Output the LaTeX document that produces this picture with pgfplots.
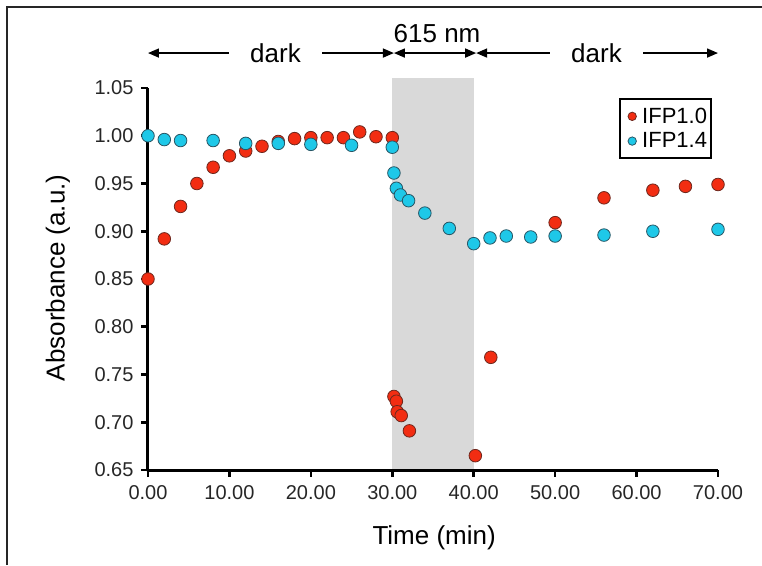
\documentclass[border=0pt]{standalone}
\usepackage{pgfplots}
\pgfplotsset{compat=1.18}
\usepackage{fontspec}
\setmainfont{Liberation Sans}
\usetikzlibrary{arrows.meta}
\definecolor{redfill}{RGB}{242,45,18}
\definecolor{rededge}{RGB}{110,40,30}
\definecolor{bluefill}{RGB}{30,200,232}
\definecolor{blueedge}{RGB}{40,85,100}
\definecolor{boxgray}{RGB}{217,217,217}
\begin{document}
\begin{tikzpicture}
\useasboundingbox (-148pt,-95pt) rectangle (614pt,470pt);
\draw[line width=2pt, black!85] (-141pt,-95pt) -- (-141pt,463pt) -- (614pt,463pt);
\begin{axis}[
  at={(0pt,0pt)}, anchor=south west,
  scale only axis, width=570pt, height=382pt,
  xmin=0, xmax=70, ymin=0.65, ymax=1.05,
  axis x line=bottom, axis y line=left,
  axis line style={draw=none},
  clip=false,
  xtick={0,10,20,30,40,50,60,70},
  ytick={0.65,0.70,0.75,0.80,0.85,0.90,0.95,1.00,1.05},
  major tick length=0pt,
  xticklabel style={yshift=-12pt},
  yticklabel style={xshift=-11pt},
  /pgf/number format/assume math mode=true,
  xticklabel style={/pgf/number format/.cd, fixed, fixed zerofill, precision=2},
  yticklabel style={/pgf/number format/.cd, fixed, fixed zerofill, precision=2},
  tick label style={font=\fontsize{20}{24}\selectfont, text=black!85},
  xlabel={Time (min)},
  ylabel={Absorbance (a.u.)},
  label style={font=\fontsize{26}{30}\selectfont},
  xlabel style={at={(axis description cs:0.502,-0.178)}, anchor=center},
  ylabel style={at={(axis description cs:-0.158,0.503)}, anchor=center},
  legend style={at={(rel axis cs:0.9895,0.974)}, anchor=north east,
    draw=black, line width=2pt, font=\fontsize{22}{26}\selectfont,
    inner xsep=2pt, inner ysep=7pt, row sep=4pt, cells={anchor=west}},
  legend image code/.code={\path[draw=none, fill=none] (-5pt,-4pt) rectangle (13pt,4pt);
    \draw[#1, mark size=4.2pt] plot coordinates {(5pt,0pt)};},
]
\fill[boxgray] (axis cs:30,0.651) rectangle (axis cs:40,1.0605);

\addplot[only marks, mark=*, mark size=6.3pt,
  mark options={fill=redfill, draw=rededge, line width=0.8pt}]
coordinates {
(0,0.850) (2,0.892) (4,0.926) (6,0.950) (8,0.967) (10,0.979) (12,0.984)
(14,0.989) (16,0.994) (18,0.997) (20,0.998) (22,0.998) (24,0.998)
(26,1.004) (28,0.999) (30,0.998)
(30.2,0.727) (30.5,0.722) (30.6,0.711) (31.1,0.707) (32.1,0.691)
(40.2,0.665) (42.1,0.768) (50,0.909) (56,0.935) (62,0.943) (66,0.947) (70,0.949)
};
\addlegendentry{IFP1.0}

\addplot[only marks, mark=*, mark size=6.3pt,
  mark options={fill=bluefill, draw=blueedge, line width=0.8pt}]
coordinates {
(0,1.000) (2,0.996) (4,0.995) (8,0.995) (12,0.992) (16,0.992) (20,0.991)
(25,0.990) (30,0.988) (30.2,0.961) (30.5,0.945) (31,0.938) (32,0.932)
(34,0.919) (37,0.903) (40,0.887) (42,0.893) (44,0.895) (47,0.894)
(50,0.895) (56,0.896) (62,0.900) (70,0.902)
};
\addlegendentry{IFP1.4}

% axis lines and ticks
\draw[line width=3pt, black, line join=round]
  (axis cs:0,1.05) -- (axis cs:0,0.65) -- (axis cs:70,0.65);
\draw[line width=2.6pt, black]
  (axis cs:0,0.65) -- ([yshift=-7pt]axis cs:0,0.65)
  (axis cs:10,0.65) -- ([yshift=-7pt]axis cs:10,0.65)
  (axis cs:20,0.65) -- ([yshift=-7pt]axis cs:20,0.65)
  (axis cs:30,0.65) -- ([yshift=-7pt]axis cs:30,0.65)
  (axis cs:40,0.65) -- ([yshift=-7pt]axis cs:40,0.65)
  (axis cs:50,0.65) -- ([yshift=-7pt]axis cs:50,0.65)
  (axis cs:60,0.65) -- ([yshift=-7pt]axis cs:60,0.65)
  (axis cs:70,0.65) -- ([yshift=-7pt]axis cs:70,0.65)
  (axis cs:0,0.65) -- ([xshift=-7pt]axis cs:0,0.65)
  (axis cs:0,0.70) -- ([xshift=-7pt]axis cs:0,0.70)
  (axis cs:0,0.75) -- ([xshift=-7pt]axis cs:0,0.75)
  (axis cs:0,0.80) -- ([xshift=-7pt]axis cs:0,0.80)
  (axis cs:0,0.85) -- ([xshift=-7pt]axis cs:0,0.85)
  (axis cs:0,0.90) -- ([xshift=-7pt]axis cs:0,0.90)
  (axis cs:0,0.95) -- ([xshift=-7pt]axis cs:0,0.95)
  (axis cs:0,1.00) -- ([xshift=-7pt]axis cs:0,1.00)
  (axis cs:0,1.05) -- ([xshift=-7pt]axis cs:0,1.05);

\draw[line width=1.6pt, {Triangle[length=11pt,width=9pt]}-{Triangle[length=11pt,width=9pt]}]
  (axis cs:0,1.0866) -- (axis cs:30.2,1.0866);
\node[fill=white, inner xsep=21pt, inner ysep=1pt, font=\fontsize{26}{30}\selectfont]
  at (axis cs:15.66,1.0866) {dark};
\draw[line width=1.6pt, {Triangle[length=11pt,width=9pt]}-{Triangle[length=11pt,width=9pt]}]
  (axis cs:30.2,1.0866) -- (axis cs:40.3,1.0866);
\node[font=\fontsize{26}{30}\selectfont] at (axis cs:35.5,1.1066) {615 nm};
\draw[line width=1.6pt, {Triangle[length=11pt,width=9pt]}-{Triangle[length=11pt,width=9pt]}]
  (axis cs:40.3,1.0866) -- (axis cs:70,1.0866);
\node[fill=white, inner xsep=21pt, inner ysep=1pt, font=\fontsize{26}{30}\selectfont]
  at (axis cs:55.08,1.0866) {dark};
\end{axis}
\end{tikzpicture}
\end{document}
